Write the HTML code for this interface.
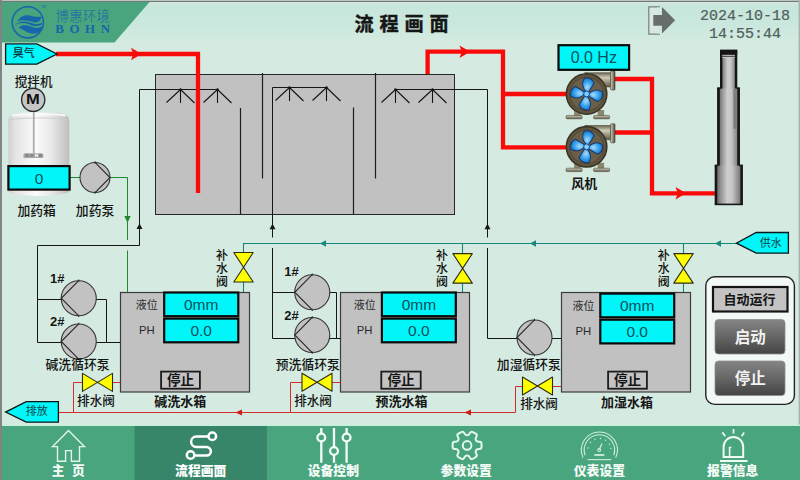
<!DOCTYPE html>
<html lang="zh"><head><meta charset="utf-8"><title>流程画面</title>
<style>
html,body{margin:0;padding:0;width:800px;height:480px;overflow:hidden;background:#d5ebe1;}
#scr{position:relative;width:800px;height:480px;overflow:hidden;font-family:"Liberation Sans",sans-serif;}
#scr svg{position:absolute;left:0;top:0;display:block;}
#scr svg text{font-family:"Liberation Sans","Noto Sans CJK SC",sans-serif;}
.t{position:absolute;text-align:center;white-space:nowrap;overflow:visible;}
</style></head><body><div id="scr">
<svg width="800" height="480" viewBox="0 0 800 480">
<defs>
<linearGradient id="bg" x1="0" y1="0" x2="0" y2="1"><stop offset="0" stop-color="#d6e7e0"/><stop offset="0.08" stop-color="#d1e6df"/><stop offset="0.14" stop-color="#c7e6dc"/><stop offset="0.45" stop-color="#c9e7dd"/><stop offset="0.75" stop-color="#cee9df"/><stop offset="1" stop-color="#d5ebe1"/></linearGradient>
<linearGradient id="chim" x1="0" y1="0" x2="1" y2="0"><stop offset="0" stop-color="#4c4c4c"/><stop offset="0.2" stop-color="#909090"/><stop offset="0.45" stop-color="#cecece"/><stop offset="0.62" stop-color="#c6c6c6"/><stop offset="0.85" stop-color="#8a8a8a"/><stop offset="1" stop-color="#555"/></linearGradient>
<linearGradient id="cyl" x1="0" y1="0" x2="1" y2="0"><stop offset="0" stop-color="#cfcfcf"/><stop offset="0.12" stop-color="#e4e4e4"/><stop offset="0.45" stop-color="#fbfbfb"/><stop offset="0.7" stop-color="#e9e9e9"/><stop offset="1" stop-color="#bdbdbd"/></linearGradient>
<linearGradient id="btn" x1="0" y1="0" x2="0" y2="1"><stop offset="0" stop-color="#858585"/><stop offset="0.5" stop-color="#666"/><stop offset="1" stop-color="#444"/></linearGradient>
<linearGradient id="metalv" x1="0" y1="0" x2="0" y2="1"><stop offset="0" stop-color="#d6d2bf"/><stop offset="1" stop-color="#5c5746"/></linearGradient>
<linearGradient id="metalh" x1="0" y1="0" x2="0" y2="1"><stop offset="0" stop-color="#6e6853"/><stop offset="0.35" stop-color="#cfcab5"/><stop offset="1" stop-color="#5e5846"/></linearGradient>
<linearGradient id="metalf" x1="0" y1="0" x2="1" y2="0"><stop offset="0" stop-color="#d9d5c2"/><stop offset="1" stop-color="#4e4a3a"/></linearGradient>
<radialGradient id="blade" cx="0.35" cy="0.5" r="0.75"><stop offset="0" stop-color="#a6dcff"/><stop offset="0.6" stop-color="#2f9bea"/><stop offset="1" stop-color="#1673c4"/></radialGradient>
</defs>
<rect x="0" y="0" width="800" height="480" fill="#d5ebe1"/>
<rect x="0" y="0" width="800" height="43.5" fill="url(#bg)"/>
<rect x="0" y="0" width="800" height="1" fill="#b9c4bf"/>
<rect x="0" y="1" width="800" height="1" fill="#6f7976"/>
<rect x="0" y="0" width="2" height="480" fill="#7f8583"/>
<rect x="798.6" y="0" width="1.4" height="426" fill="#a7b3ad"/>
<polygon points="2,2 149.5,2 114.5,42.5 2,42.5" fill="#4aa47e"/>
<circle cx="27.8" cy="22.3" r="15.6" fill="none" stroke="#1766ab" stroke-width="1.6"/>
<g fill="#1766ab">
<path d="M17.6,21.4 C19.5,17 24.5,14.6 29.5,15.6 C33.5,16.4 37.5,17.6 41.6,16.6 C41.2,20.6 37.6,23.2 33.6,22.2 C29,21 23,19 17.6,21.4 Z"/>
<path d="M14.6,25.2 C18.5,21.2 24.5,20.6 29.5,22.6 C33.5,24.2 37.5,25 42.2,22.8 C42,23.6 41.6,24.4 41.2,25 C37,27 33,26 29.4,24.4 C24.6,22.4 19.4,22.6 14.6,25.2 Z"/>
<path d="M18.6,27.4 C22.5,24.4 27,24.8 31,26.6 C35,28.4 39,28.4 42.6,26 C42.2,31 37.6,34.4 32,33.6 C27,32.8 23,29.6 18.6,27.4 Z"/>
</g>
<path d="M660,6.8 H648.8 V34.2 H660" fill="#d9e9e2" stroke="#76827c" stroke-width="1.2"/>
<rect x="657" y="7.5" width="4" height="26" fill="#d3e8e0"/>
<polygon points="653.3,15 662,15 662,7 675.2,20.2 662,33.4 662,25.8 653.3,25.8" fill="#686e6b"/>
<rect x="155.5" y="74.5" width="299" height="140" fill="#c1c1c1" stroke="#262626" stroke-width="1"/>
<polyline points="262.50,73.00 262.50,178.50" fill="none" stroke="#1d1d1d" stroke-width="1.2"/>
<polyline points="375.50,73.00 375.50,178.50" fill="none" stroke="#1d1d1d" stroke-width="1.2"/>
<polyline points="240.50,108.00 240.50,214.50" fill="none" stroke="#1d1d1d" stroke-width="1.2"/>
<polyline points="353.50,107.50 353.50,214.50" fill="none" stroke="#1d1d1d" stroke-width="1.2"/>
<polyline points="37.50,245.50 139.50,245.50 139.50,89.50 217.50,89.50" fill="none" stroke="#151515" stroke-width="1"/>
<polyline points="180.50,89.50 180.50,103.00" fill="none" stroke="#151515" stroke-width="1.1"/>
<polyline points="166.50,102.50 180.50,89.50" fill="none" stroke="#151515" stroke-width="1.1"/>
<polyline points="194.50,103.00 180.50,89.50" fill="none" stroke="#151515" stroke-width="1.1"/>
<circle cx="180.5" cy="89.5" r="1.2" fill="#151515"/>
<polyline points="217.50,89.50 217.50,103.00" fill="none" stroke="#151515" stroke-width="1.1"/>
<polyline points="203.50,102.50 217.50,89.50" fill="none" stroke="#151515" stroke-width="1.1"/>
<polyline points="231.50,103.00 217.50,89.50" fill="none" stroke="#151515" stroke-width="1.1"/>
<circle cx="217.5" cy="89.5" r="1.2" fill="#151515"/>
<polygon points="139.5,223.5 136.5,229.0 142.5,229.0" fill="#151515"/>
<polyline points="272.50,248.00 272.50,338.50" fill="none" stroke="#151515" stroke-width="1"/>
<polyline points="272.50,237.50 272.50,87.50 326.50,87.50" fill="none" stroke="#151515" stroke-width="1"/>
<polyline points="289.50,87.50 289.50,101.00" fill="none" stroke="#151515" stroke-width="1.1"/>
<polyline points="275.50,100.50 289.50,87.50" fill="none" stroke="#151515" stroke-width="1.1"/>
<polyline points="303.50,101.00 289.50,87.50" fill="none" stroke="#151515" stroke-width="1.1"/>
<circle cx="289.5" cy="87.5" r="1.2" fill="#151515"/>
<polyline points="326.50,87.50 326.50,101.00" fill="none" stroke="#151515" stroke-width="1.1"/>
<polyline points="312.50,100.50 326.50,87.50" fill="none" stroke="#151515" stroke-width="1.1"/>
<polyline points="340.50,101.00 326.50,87.50" fill="none" stroke="#151515" stroke-width="1.1"/>
<circle cx="326.5" cy="87.5" r="1.2" fill="#151515"/>
<polygon points="272.5,223.7 269.5,229.2 275.5,229.2" fill="#151515"/>
<polyline points="487.50,248.00 487.50,338.50" fill="none" stroke="#151515" stroke-width="1"/>
<polyline points="487.50,237.50 487.50,89.50 395.50,89.50" fill="none" stroke="#151515" stroke-width="1"/>
<polyline points="395.50,89.50 395.50,103.00" fill="none" stroke="#151515" stroke-width="1.1"/>
<polyline points="381.50,102.50 395.50,89.50" fill="none" stroke="#151515" stroke-width="1.1"/>
<polyline points="409.50,103.00 395.50,89.50" fill="none" stroke="#151515" stroke-width="1.1"/>
<circle cx="395.5" cy="89.5" r="1.2" fill="#151515"/>
<polyline points="432.50,89.50 432.50,103.00" fill="none" stroke="#151515" stroke-width="1.1"/>
<polyline points="418.50,102.50 432.50,89.50" fill="none" stroke="#151515" stroke-width="1.1"/>
<polyline points="446.50,103.00 432.50,89.50" fill="none" stroke="#151515" stroke-width="1.1"/>
<circle cx="432.5" cy="89.5" r="1.2" fill="#151515"/>
<polygon points="487.5,223.7 484.5,229.2 490.5,229.2" fill="#151515"/>
<rect x="120.5" y="292.5" width="129" height="99.5" fill="#c1c1c1" stroke="#3c3c3c" stroke-width="1.2"/>
<rect x="340.5" y="292.5" width="129" height="99.5" fill="#c1c1c1" stroke="#3c3c3c" stroke-width="1.2"/>
<rect x="561.5" y="292.5" width="129" height="99.5" fill="#c1c1c1" stroke="#3c3c3c" stroke-width="1.2"/>
<polyline points="37.50,245.50 37.50,342.50 61.50,342.50" fill="none" stroke="#151515" stroke-width="1"/>
<polyline points="37.50,299.50 61.50,299.50" fill="none" stroke="#151515" stroke-width="1"/>
<polyline points="96.00,299.50 106.50,299.50 106.50,342.50" fill="none" stroke="#151515" stroke-width="1"/>
<polyline points="96.00,342.50 120.30,342.50" fill="none" stroke="#151515" stroke-width="1"/>
<polyline points="272.50,292.50 295.00,292.50" fill="none" stroke="#151515" stroke-width="1"/>
<polyline points="272.50,338.50 295.00,338.50" fill="none" stroke="#151515" stroke-width="1"/>
<polyline points="329.50,292.50 336.50,292.50 336.50,338.50" fill="none" stroke="#151515" stroke-width="1"/>
<polyline points="329.00,338.50 340.70,338.50" fill="none" stroke="#151515" stroke-width="1"/>
<polyline points="487.50,338.50 517.00,338.50" fill="none" stroke="#151515" stroke-width="1"/>
<polyline points="552.00,338.50 561.20,338.50" fill="none" stroke="#151515" stroke-width="1"/>
<circle cx="78.75" cy="298.25" r="17.50" fill="#c2c2c2" stroke="#353535" stroke-width="1.1"/>
<polyline points="78.45,280.95 61.25,298.25 78.45,315.55" fill="none" stroke="#2a2a2a" stroke-width="1.1"/>
<polyline points="78.75,279.45 78.75,281.75" fill="none" stroke="#2a2a2a" stroke-width="1"/>
<polyline points="78.75,317.05 78.75,314.75" fill="none" stroke="#2a2a2a" stroke-width="1"/>
<circle cx="78.75" cy="341.50" r="17.50" fill="#c2c2c2" stroke="#353535" stroke-width="1.1"/>
<polyline points="78.45,324.20 61.25,341.50 78.45,358.80" fill="none" stroke="#2a2a2a" stroke-width="1.1"/>
<polyline points="78.75,322.70 78.75,325.00" fill="none" stroke="#2a2a2a" stroke-width="1"/>
<polyline points="78.75,360.30 78.75,358.00" fill="none" stroke="#2a2a2a" stroke-width="1"/>
<circle cx="312.25" cy="292.25" r="17.50" fill="#c2c2c2" stroke="#353535" stroke-width="1.1"/>
<polyline points="311.95,274.95 294.75,292.25 311.95,309.55" fill="none" stroke="#2a2a2a" stroke-width="1.1"/>
<polyline points="312.25,273.45 312.25,275.75" fill="none" stroke="#2a2a2a" stroke-width="1"/>
<polyline points="312.25,311.05 312.25,308.75" fill="none" stroke="#2a2a2a" stroke-width="1"/>
<circle cx="312.25" cy="335.00" r="17.50" fill="#c2c2c2" stroke="#353535" stroke-width="1.1"/>
<polyline points="311.95,317.70 294.75,335.00 311.95,352.30" fill="none" stroke="#2a2a2a" stroke-width="1.1"/>
<polyline points="312.25,316.20 312.25,318.50" fill="none" stroke="#2a2a2a" stroke-width="1"/>
<polyline points="312.25,353.80 312.25,351.50" fill="none" stroke="#2a2a2a" stroke-width="1"/>
<circle cx="534.50" cy="337.50" r="17.50" fill="#c2c2c2" stroke="#353535" stroke-width="1.1"/>
<polyline points="534.20,320.20 517.00,337.50 534.20,354.80" fill="none" stroke="#2a2a2a" stroke-width="1.1"/>
<polyline points="534.50,318.70 534.50,321.00" fill="none" stroke="#2a2a2a" stroke-width="1"/>
<polyline points="534.50,356.30 534.50,354.00" fill="none" stroke="#2a2a2a" stroke-width="1"/>
<polyline points="70.50,177.50 80.00,177.50" fill="none" stroke="#1f8a2c" stroke-width="1"/>
<polyline points="110.00,177.50 127.50,177.50 127.50,240.00" fill="none" stroke="#1f8a2c" stroke-width="1"/>
<polyline points="127.50,250.50 127.50,292.00" fill="none" stroke="#1f8a2c" stroke-width="1"/>
<polygon points="124.3,216 130.7,216 127.5,222.8" fill="#1f8a2c"/>
<circle cx="95.00" cy="177.50" r="15.00" fill="#c2c2c2" stroke="#353535" stroke-width="1.1"/>
<polyline points="95.30,162.70 110.00,177.50 95.30,192.30" fill="none" stroke="#2a2a2a" stroke-width="1.1"/>
<polyline points="95.00,161.20 95.00,163.50" fill="none" stroke="#2a2a2a" stroke-width="1"/>
<polyline points="95.00,193.80 95.00,191.50" fill="none" stroke="#2a2a2a" stroke-width="1"/>
<polyline points="243.50,292.00 243.50,243.50 737.00,243.50" fill="none" stroke="#17877b" stroke-width="1.1"/>
<polyline points="462.50,243.50 462.50,292.00" fill="none" stroke="#17877b" stroke-width="1.1"/>
<polyline points="683.50,243.50 683.50,292.00" fill="none" stroke="#17877b" stroke-width="1.1"/>
<polygon points="320.0,243.5 326.0,240.3 326.0,246.7" fill="#17877b"/>
<polygon points="530.0,243.5 536.0,240.3 536.0,246.7" fill="#17877b"/>
<polygon points="715.0,243.5 721.0,240.3 721.0,246.7" fill="#17877b"/>
<path d="M233.80,252.55 h19.40 L233.80,282.05 h19.40 Z" fill="#ffff00" stroke="#2c2c18" stroke-width="1.1" stroke-linejoin="round"/>
<path d="M452.90,253.65 h19.40 L452.90,283.15 h19.40 Z" fill="#ffff00" stroke="#2c2c18" stroke-width="1.1" stroke-linejoin="round"/>
<path d="M673.80,253.65 h19.40 L673.80,283.15 h19.40 Z" fill="#ffff00" stroke="#2c2c18" stroke-width="1.1" stroke-linejoin="round"/>
<polyline points="120.30,382.50 73.50,382.50 73.50,412.50" fill="none" stroke="#d22c2c" stroke-width="1"/>
<polyline points="340.70,382.50 290.50,382.50 290.50,412.50" fill="none" stroke="#d22c2c" stroke-width="1"/>
<polyline points="561.20,386.50 515.50,386.50 515.50,412.50 59.00,412.50" fill="none" stroke="#d22c2c" stroke-width="1"/>
<polygon points="235.5,412.5 242.0,409.6 242.0,415.4" fill="#d01818"/>
<polygon points="464.5,412.5 471.0,409.6 471.0,415.4" fill="#d01818"/>
<path d="M82.50,373.40 v18.00 L112.50,373.40 v18.00 Z" fill="#ffff00" stroke="#2c2c18" stroke-width="1.1" stroke-linejoin="round"/>
<path d="M302.00,373.20 v18.00 L332.00,373.20 v18.00 Z" fill="#ffff00" stroke="#2c2c18" stroke-width="1.1" stroke-linejoin="round"/>
<path d="M522.50,377.00 v18.00 L552.50,377.00 v18.00 Z" fill="#ffff00" stroke="#2c2c18" stroke-width="1.1" stroke-linejoin="round"/>
<polyline points="56.00,54.00 198.00,54.00 198.00,193.00" fill="none" stroke="#fb0a0a" stroke-width="4.3" stroke-linejoin="miter"/>
<polygon points="141.5,54.0 131.0,47.7 133.3,54.0 131.0,60.3" fill="#fb0a0a"/>
<polyline points="427.60,74.00 427.60,51.70 503.00,51.70 503.00,147.30 567.00,147.30" fill="none" stroke="#fb0a0a" stroke-width="4.3" stroke-linejoin="miter"/>
<polyline points="503.00,94.00 567.00,94.00" fill="none" stroke="#fb0a0a" stroke-width="4.3" stroke-linejoin="miter"/>
<polygon points="470.0,51.7 459.5,45.4 461.8,51.7 459.5,58.0" fill="#fb0a0a"/>
<polyline points="614.00,79.00 652.00,79.00 652.00,193.30 715.00,193.30" fill="none" stroke="#fb0a0a" stroke-width="4.3" stroke-linejoin="miter"/>
<polyline points="614.00,132.50 652.00,132.50" fill="none" stroke="#fb0a0a" stroke-width="4.3" stroke-linejoin="miter"/>
<polygon points="686.0,193.3 675.5,187.0 677.8,193.3 675.5,199.6" fill="#fb0a0a"/>
<rect x="714.80" y="165.00" width="28.00" height="39.80" fill="url(#chim)"/>
<rect x="714.80" y="165.00" width="2.40" height="39.80" fill="#161616"/>
<rect x="740.40" y="165.00" width="2.40" height="39.80" fill="#161616"/>
<rect x="714.80" y="164.60" width="3.60" height="1.6" fill="#161616"/>
<rect x="738.80" y="164.60" width="4.00" height="1.6" fill="#161616"/>
<rect x="714.80" y="203.60" width="28.00" height="1.6" fill="#161616"/>
<rect x="717.20" y="87.80" width="22.70" height="77.70" fill="url(#chim)"/>
<rect x="717.20" y="87.80" width="2.60" height="77.70" fill="#161616"/>
<rect x="737.30" y="87.80" width="2.60" height="77.70" fill="#161616"/>
<rect x="717.20" y="87.40" width="3.80" height="1.6" fill="#161616"/>
<rect x="736.20" y="87.40" width="3.70" height="1.6" fill="#161616"/>
<rect x="720.00" y="50.00" width="17.20" height="38.50" fill="url(#chim)"/>
<rect x="720.00" y="50.00" width="2.40" height="38.50" fill="#161616"/>
<rect x="734.80" y="50.00" width="2.40" height="38.50" fill="#161616"/>
<rect x="720" y="49.6" width="17.2" height="5.2" fill="#141414"/>
<rect x="722.2" y="55.2" width="12.6" height="0.9" fill="#d0d0d0"/><rect x="722.2" y="56.9" width="12.6" height="0.9" fill="#c4c4c4"/>
<rect x="722.2" y="54.6" width="12.6" height="0.6" fill="#3a3a3a"/><rect x="722.2" y="56.1" width="12.6" height="0.8" fill="#3a3a3a"/>
<rect x="733.4" y="88.8" width="3.2" height="40" fill="#7e7e7e"/>
<g transform="translate(586.6 94.0)">
<rect x="-12.5" y="16" width="6.5" height="6" fill="#8d866f"/><rect x="11" y="16" width="6.5" height="6" fill="#8d866f"/>
<rect x="-20.5" y="21.4" width="16" height="3.4" rx="1" fill="url(#metalv)" stroke="#4a4636" stroke-width="0.6"/>
<rect x="7" y="21.4" width="16" height="3.4" rx="1" fill="url(#metalv)" stroke="#4a4636" stroke-width="0.6"/>
<path d="M-2,-21.3 H24 V-7 H17 C17,-13 14,-17 9,-18 Z" fill="url(#metalh)" stroke="#4a4636" stroke-width="0.6"/>
<rect x="24" y="-23" width="4.4" height="19" rx="0.8" fill="url(#metalf)" stroke="#3c382b" stroke-width="0.6"/>
<circle r="20.2" fill="#5f553f" stroke="#3a3427" stroke-width="1.6"/>
<circle r="16.8" fill="#6a5f49" stroke="#4a4232" stroke-width="0.8"/>
<path transform="rotate(-75)" d="M2,-0.8 C4.5,-5.5 9.5,-8 14.6,-6.2 C16.4,-2.5 15.6,1.8 12.6,4.4 C9,3.6 5.5,2.2 2,1.2 Z" fill="url(#blade)" stroke="#16386d" stroke-width="1"/>
<path transform="rotate(15)" d="M2,-0.8 C4.5,-5.5 9.5,-8 14.6,-6.2 C16.4,-2.5 15.6,1.8 12.6,4.4 C9,3.6 5.5,2.2 2,1.2 Z" fill="url(#blade)" stroke="#16386d" stroke-width="1"/>
<path transform="rotate(105)" d="M2,-0.8 C4.5,-5.5 9.5,-8 14.6,-6.2 C16.4,-2.5 15.6,1.8 12.6,4.4 C9,3.6 5.5,2.2 2,1.2 Z" fill="url(#blade)" stroke="#16386d" stroke-width="1"/>
<path transform="rotate(195)" d="M2,-0.8 C4.5,-5.5 9.5,-8 14.6,-6.2 C16.4,-2.5 15.6,1.8 12.6,4.4 C9,3.6 5.5,2.2 2,1.2 Z" fill="url(#blade)" stroke="#16386d" stroke-width="1"/>
<circle r="2.9" fill="#7fd0ff" stroke="#174a8a" stroke-width="1"/>
</g>
<g transform="translate(586.6 146.8)">
<rect x="-12.5" y="16" width="6.5" height="6" fill="#8d866f"/><rect x="11" y="16" width="6.5" height="6" fill="#8d866f"/>
<rect x="-20.5" y="21.4" width="16" height="3.4" rx="1" fill="url(#metalv)" stroke="#4a4636" stroke-width="0.6"/>
<rect x="7" y="21.4" width="16" height="3.4" rx="1" fill="url(#metalv)" stroke="#4a4636" stroke-width="0.6"/>
<path d="M-2,-21.3 H24 V-7 H17 C17,-13 14,-17 9,-18 Z" fill="url(#metalh)" stroke="#4a4636" stroke-width="0.6"/>
<rect x="24" y="-23" width="4.4" height="19" rx="0.8" fill="url(#metalf)" stroke="#3c382b" stroke-width="0.6"/>
<circle r="20.2" fill="#5f553f" stroke="#3a3427" stroke-width="1.6"/>
<circle r="16.8" fill="#6a5f49" stroke="#4a4232" stroke-width="0.8"/>
<path transform="rotate(-75)" d="M2,-0.8 C4.5,-5.5 9.5,-8 14.6,-6.2 C16.4,-2.5 15.6,1.8 12.6,4.4 C9,3.6 5.5,2.2 2,1.2 Z" fill="url(#blade)" stroke="#16386d" stroke-width="1"/>
<path transform="rotate(15)" d="M2,-0.8 C4.5,-5.5 9.5,-8 14.6,-6.2 C16.4,-2.5 15.6,1.8 12.6,4.4 C9,3.6 5.5,2.2 2,1.2 Z" fill="url(#blade)" stroke="#16386d" stroke-width="1"/>
<path transform="rotate(105)" d="M2,-0.8 C4.5,-5.5 9.5,-8 14.6,-6.2 C16.4,-2.5 15.6,1.8 12.6,4.4 C9,3.6 5.5,2.2 2,1.2 Z" fill="url(#blade)" stroke="#16386d" stroke-width="1"/>
<path transform="rotate(195)" d="M2,-0.8 C4.5,-5.5 9.5,-8 14.6,-6.2 C16.4,-2.5 15.6,1.8 12.6,4.4 C9,3.6 5.5,2.2 2,1.2 Z" fill="url(#blade)" stroke="#16386d" stroke-width="1"/>
<circle r="2.9" fill="#7fd0ff" stroke="#174a8a" stroke-width="1"/>
</g>
<ellipse cx="38.8" cy="191" rx="30.5" ry="5" fill="url(#cyl)"/>
<path d="M8.3,191 V120.5 C8.3,115 14,112.6 24,112.4 H53.6 C63.6,112.6 69.3,115 69.3,120.5 V191 Z" fill="url(#cyl)"/>
<path d="M8.6,120.3 C16,117.2 61.6,117.2 69,120.3" fill="none" stroke="#c9c9c9" stroke-width="0.9"/>
<path d="M12,115.6 C22,113.6 55.6,113.6 65.6,115.6" fill="none" stroke="#fafafa" stroke-width="1.6"/>
<rect x="32.9" y="111.5" width="1.7" height="42" fill="#a9a9a9"/>
<rect x="23.4" y="153.2" width="20" height="4.8" rx="1.5" fill="#a8a8a8"/>
<rect x="25.5" y="154.2" width="3" height="2.6" fill="#7e7e7e"/><rect x="30" y="154" width="3.4" height="3" fill="#8c8c8c"/><rect x="35" y="154.2" width="3" height="2.6" fill="#e6e6e6"/><rect x="39" y="154.2" width="3" height="2.6" fill="#858585"/>
<circle cx="33.2" cy="99.8" r="11.6" fill="#c6c6c6" stroke="#2b2b2b" stroke-width="1.4"/>
<polygon points="5.6,43.9 36.8,43.9 57,54 36.8,64.2 5.6,64.2" fill="#00f6f8" stroke="#0b1718" stroke-width="1.3" stroke-linejoin="miter"/>
<polygon points="58.4,401.6 26.2,401.6 5.6,412.1 26.2,422.2 58.4,422.2" fill="#00f6f8" stroke="#0b1718" stroke-width="1.3" stroke-linejoin="miter"/>
<polygon points="788.4,232.5 756.2,232.5 736.4,243.2 756.2,253.2 788.4,253.2" fill="#00f6f8" stroke="#0b1718" stroke-width="1.3" stroke-linejoin="miter"/>
<rect x="8.40" y="166.10" width="61.20" height="23.50" fill="#00f6f8" stroke="#0a0a0a" stroke-width="2.2"/>
<rect x="558.50" y="45.20" width="70.60" height="24.60" fill="#00f6f8" stroke="#0a0a0a" stroke-width="2.2"/>
<rect x="164.20" y="292.50" width="74.10" height="23.70" fill="#00f6f8" stroke="#0a0a0a" stroke-width="2.2"/>
<rect x="164.20" y="318.60" width="74.10" height="23.70" fill="#00f6f8" stroke="#0a0a0a" stroke-width="2.2"/>
<rect x="381.90" y="292.50" width="73.90" height="23.70" fill="#00f6f8" stroke="#0a0a0a" stroke-width="2.2"/>
<rect x="381.90" y="318.60" width="73.90" height="23.70" fill="#00f6f8" stroke="#0a0a0a" stroke-width="2.2"/>
<rect x="600.30" y="293.60" width="73.90" height="23.70" fill="#00f6f8" stroke="#0a0a0a" stroke-width="2.2"/>
<rect x="600.30" y="319.70" width="73.90" height="23.70" fill="#00f6f8" stroke="#0a0a0a" stroke-width="2.2"/>
<rect x="161.10" y="371.60" width="38.80" height="17.10" fill="#c3c3c3" stroke="#1c1c1c" stroke-width="1.8"/>
<rect x="381.30" y="371.60" width="39.40" height="17.10" fill="#c3c3c3" stroke="#1c1c1c" stroke-width="1.8"/>
<rect x="608.10" y="371.60" width="38.80" height="17.10" fill="#c3c3c3" stroke="#1c1c1c" stroke-width="1.8"/>
<rect x="705.8" y="276.8" width="88.6" height="127.6" rx="9" fill="#f2f8f5" stroke="#222" stroke-width="1.4"/>
<rect x="713" y="287" width="74.5" height="24.5" fill="#c3c3c3" stroke="#141414" stroke-width="2.2"/>
<rect x="715" y="319.5" width="70" height="34.5" rx="3.5" fill="url(#btn)" stroke="#8e8e8e" stroke-width="0.8"/>
<rect x="715" y="361.0" width="70" height="34.5" rx="3.5" fill="url(#btn)" stroke="#8e8e8e" stroke-width="0.8"/>
<rect x="0" y="424.6" width="800" height="1.4" fill="#c9f0df"/>
<rect x="0" y="426" width="800" height="54" fill="#48a57e"/>
<rect x="134.5" y="426" width="132.5" height="54" fill="#37866a"/>
<rect x="0" y="424" width="2" height="56" fill="#7f8583"/>
<path d="M68.5,430.6 L52.6,446.6 H57.5 V461.2 H65.6 V450.6 H71.4 V461.2 H79.5 V446.6 H84.4 Z" fill="none" stroke="#e3f6ec" stroke-width="1.4" stroke-linejoin="miter"/>
<g fill="none" stroke="#ffffff" stroke-width="2.5"><circle cx="212.3" cy="436.3" r="3.8"/><circle cx="190.6" cy="455" r="3.8"/><path d="M208.5,436.6 H196.3 a5.2,5.2 0 0 0 0,10.4 H206.6 a4.3,4.3 0 0 1 0,8.6 H194.4"/></g>
<g fill="none" stroke="#f4fcf8" stroke-width="2.3" stroke-linecap="butt">
<path d="M321.3,428 V433.6 M321.3,441.4 V462.8"/><circle cx="321.3" cy="437.5" r="3.9"/>
<path d="M334.0,428 V447.1 M334.0,454.9 V462.8"/><circle cx="334.0" cy="451.0" r="3.9"/>
<path d="M346.6,428 V433.6 M346.6,441.4 V462.8"/><circle cx="346.6" cy="437.5" r="3.9"/>
</g>
<g fill="none" stroke="#e4f8ee" stroke-width="2" stroke-linejoin="round"><path d="M475.92,440.31 Q476.70,441.68 478.70,441.69 L479.54,441.70 Q481.54,441.71 481.54,443.71 L481.54,447.09 Q481.54,449.09 479.54,449.10 L478.70,449.11 Q476.70,449.12 475.92,450.49 L475.92,450.49 Q475.13,451.85 476.11,453.59 L476.52,454.32 Q477.51,456.06 475.78,457.06 L472.86,458.75 Q471.13,459.75 470.11,458.02 L469.69,457.30 Q468.68,455.58 467.10,455.58 L467.10,455.58 Q465.52,455.58 464.51,457.30 L464.09,458.02 Q463.07,459.75 461.34,458.75 L458.42,457.06 Q456.69,456.06 457.68,454.32 L458.09,453.59 Q459.07,451.85 458.28,450.49 L458.28,450.49 Q457.50,449.12 455.50,449.11 L454.66,449.10 Q452.66,449.09 452.66,447.09 L452.66,443.71 Q452.66,441.71 454.66,441.70 L455.50,441.69 Q457.50,441.68 458.28,440.31 L458.28,440.31 Q459.07,438.95 458.09,437.21 L457.68,436.48 Q456.69,434.74 458.42,433.74 L461.34,432.05 Q463.07,431.05 464.09,432.78 L464.51,433.50 Q465.52,435.22 467.10,435.22 L467.10,435.22 Q468.68,435.22 469.69,433.50 L470.11,432.78 Q471.13,431.05 472.86,432.05 L475.78,433.74 Q477.51,434.74 476.52,436.48 L476.11,437.21 Q475.13,438.95 475.92,440.31 Z"/><circle cx="467.1" cy="445.4" r="4.3"/></g>
<g fill="none" stroke="#cfeedd" stroke-width="1.1">
<path d="M583.09,457.61 A18.00,18.00 0 1 1 615.71,457.61"/><path d="M585.12,455.20 A15.20,15.20 0 1 1 613.68,455.20"/>
<path d="M587.5,459.6 H611.2"/><path d="M594.3,455 H604.3" stroke-width="1.8"/>
<path d="M599.3,449.5 L602,443.6" stroke-width="1.3"/><circle cx="599.2" cy="450" r="1.4"/>
</g>
<g fill="#cfeedd">
<circle cx="587.98" cy="447.99" r="0.7"/>
<circle cx="590.51" cy="442.54" r="0.7"/>
<circle cx="595.05" cy="439.24" r="0.7"/>
<circle cx="600.41" cy="438.44" r="0.7"/>
<circle cx="605.55" cy="440.16" r="0.7"/>
<circle cx="609.45" cy="444.20" r="0.7"/>
<circle cx="610.89" cy="448.39" r="0.7"/>
</g>
<g fill="none" stroke="#f0faf5" stroke-width="2"><path d="M723.6,457 V446.8 a9.8,9.8 0 0 1 19.6,0 V457 Z"/><path d="M720,461 H747.5"/>
<path d="M729.6,457 V447.5 h1.8" stroke-width="1.6"/>
<path d="M733.5,429 V433.4 M722.3,432.4 L725.3,436.2 M744.2,432.4 L741.6,436.2" stroke-width="1.7"/></g>
<text x="55.51" y="21.03" font-size="13.2" font-weight="300" fill="#1766ab" textLength="54.3" lengthAdjust="spacing">博惠环境</text>
<text x="354.44" y="31.06" font-size="19.2" font-weight="bold" fill="#161616" stroke="#161616" stroke-width="0.42" textLength="94.2" lengthAdjust="spacing">流程画面</text>
<text x="12.86" y="57.17" font-size="11" font-weight="500" fill="#12333d">臭气</text>
<text x="25.83" y="415.48" font-size="11" fill="#0d3f4b">排放</text>
<text x="759.72" y="246.56" font-size="11" fill="#0d3f4b">供水</text>
<text x="167.04" y="385.38" font-size="13.6" font-weight="bold" fill="#161616">停止</text>
<text x="387.54" y="385.38" font-size="13.6" font-weight="bold" fill="#161616">停止</text>
<text x="614.04" y="385.38" font-size="13.6" font-weight="bold" fill="#161616">停止</text>
<text x="14.69" y="85.81" font-size="12.6" font-weight="500" fill="#141414">搅拌机</text>
<text x="17.45" y="214.70" font-size="12.8" font-weight="500" fill="#141414">加药箱</text>
<text x="75.86" y="214.66" font-size="12.8" font-weight="500" fill="#141414">加药泵</text>
<text x="571.20" y="187.91" font-size="13" font-weight="bold" fill="#161616">风机</text>
<text font-size="12" font-weight="500" fill="#141414"><tspan x="216.02" y="260.45">补</tspan><tspan x="215.94" y="273.15">水</tspan><tspan x="215.99" y="285.81">阀</tspan></text>
<text font-size="12" font-weight="500" fill="#141414"><tspan x="436.02" y="260.45">补</tspan><tspan x="435.94" y="273.15">水</tspan><tspan x="435.99" y="285.81">阀</tspan></text>
<text font-size="12" font-weight="500" fill="#141414"><tspan x="657.82" y="260.45">补</tspan><tspan x="657.74" y="273.15">水</tspan><tspan x="657.79" y="285.81">阀</tspan></text>
<text x="135.82" y="308.72" font-size="11" fill="#2a2a2a">液位</text>
<text x="353.82" y="308.72" font-size="11" fill="#2a2a2a">液位</text>
<text x="572.62" y="309.62" font-size="11" fill="#2a2a2a">液位</text>
<text x="45.55" y="369.49" font-size="12.8" font-weight="500" fill="#141414">碱洗循环泵</text>
<text x="275.81" y="368.79" font-size="12.8" font-weight="500" fill="#141414">预洗循环泵</text>
<text x="496.86" y="368.79" font-size="12.8" font-weight="500" fill="#141414">加湿循环泵</text>
<text x="77.06" y="405.48" font-size="12.6" font-weight="500" fill="#141414">排水阀</text>
<text x="294.16" y="404.78" font-size="12.6" font-weight="500" fill="#141414">排水阀</text>
<text x="520.16" y="407.78" font-size="12.6" font-weight="500" fill="#141414">排水阀</text>
<text x="154.14" y="406.27" font-size="13" font-weight="bold" fill="#161616">碱洗水箱</text>
<text x="375.61" y="406.26" font-size="13" font-weight="bold" fill="#161616">预洗水箱</text>
<text x="600.95" y="407.28" font-size="13" font-weight="bold" fill="#161616">加湿水箱</text>
<text x="723.52" y="304.18" font-size="13" font-weight="bold" fill="#161616">自动运行</text>
<text x="734.65" y="342.67" font-size="15.5" font-weight="bold" fill="#f2f2f2">启动</text>
<text x="734.65" y="384.26" font-size="15.5" font-weight="bold" fill="#f2f2f2">停止</text>
<text x="51.86" y="475.21" font-size="12.6" font-weight="900" fill="#f4fbf7">主 <tspan x="71.96">页</tspan></text>
<text x="175.10" y="475.28" font-size="12.8" font-weight="900" fill="#ffffff">流程画面</text>
<text x="307.77" y="475.30" font-size="12.8" font-weight="900" fill="#f4fbf7">设备控制</text>
<text x="440.59" y="475.33" font-size="12.8" font-weight="900" fill="#f4fbf7">参数设置</text>
<text x="573.80" y="475.25" font-size="12.8" font-weight="900" fill="#f4fbf7">仪表设置</text>
<text x="707.08" y="475.30" font-size="12.8" font-weight="900" fill="#f4fbf7">报警信息</text>
</svg>
<div class="t" style="left:42.6px;top:21.9px;width:80px;height:15px;line-height:15px;font-size:12.90px;color:#1766ab;font-family:'Liberation Serif',serif;font-weight:bold;letter-spacing:5.60px;text-indent:5.6px;">BOHN</div>
<div class="t" style="left:38.5px;top:5.2px;width:10px;height:4px;line-height:4px;font-size:3.50px;color:#1766ab;font-family:'Liberation Sans',sans-serif;">TM</div>
<div class="t" style="left:690.0px;top:7.7px;width:110px;height:18px;line-height:18px;font-size:15.00px;color:#50605a;font-family:'Liberation Mono',monospace;-webkit-text-stroke:0.22px #50605a;">2024-10-18</div>
<div class="t" style="left:690.0px;top:25.6px;width:110px;height:18px;line-height:18px;font-size:15.00px;color:#50605a;font-family:'Liberation Mono',monospace;-webkit-text-stroke:0.22px #50605a;">14:55:44</div>
<div class="t" style="left:18.3px;top:90.9px;width:30px;height:17px;line-height:17px;font-size:14.50px;color:#111;font-family:'Liberation Sans',sans-serif;font-weight:bold;transform:scaleX(1.14);">M</div>
<div class="t" style="left:7.5px;top:168.6px;width:63px;height:19px;line-height:19px;font-size:15.50px;color:#0b4e5e;font-family:'Liberation Sans',sans-serif;">0</div>
<div class="t" style="left:557.8px;top:48.3px;width:72px;height:19px;line-height:19px;font-size:16.00px;color:#0b4e5e;font-family:'Liberation Sans',sans-serif;">0.0 Hz</div>
<div class="t" style="left:163.2px;top:295.1px;width:76px;height:19px;line-height:19px;font-size:15.50px;color:#0b4e5e;font-family:'Liberation Sans',sans-serif;">0mm</div>
<div class="t" style="left:163.2px;top:321.2px;width:76px;height:19px;line-height:19px;font-size:15.50px;color:#0b4e5e;font-family:'Liberation Sans',sans-serif;">0.0</div>
<div class="t" style="left:380.9px;top:295.1px;width:76px;height:19px;line-height:19px;font-size:15.50px;color:#0b4e5e;font-family:'Liberation Sans',sans-serif;">0mm</div>
<div class="t" style="left:380.9px;top:321.2px;width:76px;height:19px;line-height:19px;font-size:15.50px;color:#0b4e5e;font-family:'Liberation Sans',sans-serif;">0.0</div>
<div class="t" style="left:599.2px;top:296.2px;width:76px;height:19px;line-height:19px;font-size:15.50px;color:#0b4e5e;font-family:'Liberation Sans',sans-serif;">0mm</div>
<div class="t" style="left:599.2px;top:322.3px;width:76px;height:19px;line-height:19px;font-size:15.50px;color:#0b4e5e;font-family:'Liberation Sans',sans-serif;">0.0</div>
<div class="t" style="left:131.8px;top:322.6px;width:30px;height:14px;line-height:14px;font-size:11.30px;color:#2a2a2a;font-family:'Liberation Sans',sans-serif;">PH</div>
<div class="t" style="left:349.6px;top:322.7px;width:30px;height:14px;line-height:14px;font-size:11.30px;color:#2a2a2a;font-family:'Liberation Sans',sans-serif;">PH</div>
<div class="t" style="left:568.3px;top:323.7px;width:30px;height:14px;line-height:14px;font-size:11.30px;color:#2a2a2a;font-family:'Liberation Sans',sans-serif;">PH</div>
<div class="t" style="left:42.3px;top:270.5px;width:30px;height:16px;line-height:16px;font-size:13.00px;color:#161616;font-family:'Liberation Sans',sans-serif;font-weight:bold;">1#</div>
<div class="t" style="left:42.3px;top:313.5px;width:30px;height:16px;line-height:16px;font-size:13.00px;color:#161616;font-family:'Liberation Sans',sans-serif;font-weight:bold;">2#</div>
<div class="t" style="left:276.6px;top:264.4px;width:30px;height:16px;line-height:16px;font-size:13.00px;color:#161616;font-family:'Liberation Sans',sans-serif;font-weight:bold;">1#</div>
<div class="t" style="left:276.6px;top:307.9px;width:30px;height:16px;line-height:16px;font-size:13.00px;color:#161616;font-family:'Liberation Sans',sans-serif;font-weight:bold;">2#</div>
</div></body></html>
